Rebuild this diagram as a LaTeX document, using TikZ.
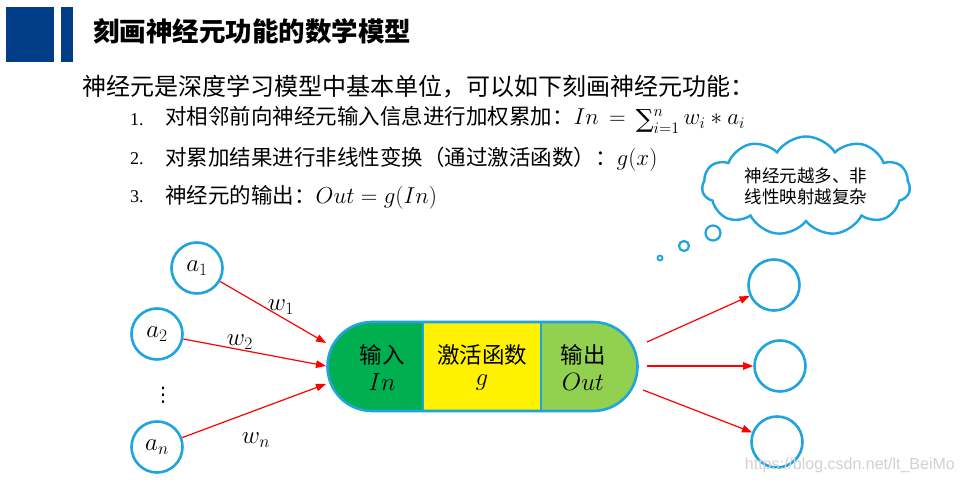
\RequirePackage{fix-cm}
\documentclass[tikz,border=0pt]{standalone}
\usepackage{fontspec}
\usetikzlibrary{arrows.meta,shapes.misc,shapes.symbols}
\newfontfamily\cjk{Noto Sans CJK SC}
\newfontfamily\numfont{Liberation Serif}
\newfontfamily\wmfont{Liberation Sans}
\newfontfamily\dvs{DejaVu Serif}
\newfontfamily\dvsans{DejaVu Sans}
\newcommand\bigsum{\mathop{\raisebox{-3pt}{\dvs\fontsize{25}{26}\selectfont ∑}}\nolimits}
\newcommand\mth[1]{{\fontsize{23}{26}\selectfont$#1$}}
\definecolor{hdrblue}{RGB}{0,61,134}
\definecolor{cblue}{RGB}{30,164,222}
\definecolor{dgreen}{RGB}{0,176,80}
\definecolor{lgreen}{RGB}{146,208,80}
\begin{document}
\begin{tikzpicture}[x=1pt,y=-1pt,
  nb/.style={circle, draw=cblue, line width=2.6pt, minimum size=51pt, inner sep=0pt, font=\fontsize{25}{28}\selectfont},
  arr/.style={red, line width=1.2pt, -{Triangle[length=10pt,width=7.5pt]}},
  bubble/.style={circle, draw=cblue, line width=2.2pt, inner sep=0pt},
  body/.style={anchor=west, inner sep=0pt, font=\fontsize{21.5}{25}\selectfont\cjk},
  num/.style={anchor=west, inner sep=0pt, font=\fontsize{18}{22}\selectfont\numfont},
  lbl/.style={inner sep=0pt, font=\fontsize{22.5}{26}\selectfont\cjk},
  wlbl/.style={inner sep=0pt, font=\fontsize{25}{28}\selectfont}]
\useasboundingbox (0,0) rectangle (964,486);
\fill[white] (0,0) rectangle (964,486);
% header
\fill[hdrblue] (6,7) rectangle (54,62);
\fill[hdrblue] (61,7) rectangle (73,62);
\node[anchor=west, inner sep=0pt, font=\fontsize{26.5}{30}\selectfont\cjk\bfseries] (title) at (93,31) {刻画神经元功能的数学模型};
% text
\node[anchor=west, inner sep=0pt, font=\fontsize{24}{28}\selectfont\cjk] (intro) at (82,87) {神经元是深度学习模型中基本单位，可以如下刻画神经元功能：};
\node[num] (n1) at (130,120) {1.};
\node[body] (l1) at (165,120) {对相邻前向神经元输入信息进行加权累加：\mth{In\,=\,\bigsum_{i=1}^{n} w_i * a_i}};
\node[num] (n2) at (130,159) {2.};
\node[body] (l2) at (165,159) {对累加结果进行非线性变换（通过激活函数）：\mth{g(x)}};
\node[num] (n3) at (130,197) {3.};
\node[body] (l3) at (165,197) {神经元的输出：\mth{Out = g(In)}};
% cloud
\node[cloud, cloud puffs=11, cloud puff arc=115, aspect=2.3, draw=cblue, line width=2.4pt, fill=white,
      minimum width=208pt, minimum height=96pt, inner sep=0pt, align=center,
      font=\fontsize{17.5}{21}\selectfont\cjk] (cloud) at (806,186) {神经元越多、非\\线性映射越复杂};
\node[bubble, minimum size=15pt] (b1) at (713,233) {};
\node[bubble, minimum size=10pt] (b2) at (684,246) {};
\node[bubble, minimum size=5pt, line width=1.8pt] (b3) at (660,258) {};
% inputs
\node[nb] (a1) at (197,268) {$a_1$};
\node[nb] (a2) at (157,334) {$a_2$};
\node[nb] (an) at (157,447) {$a_n$};
\node[inner sep=0pt, font=\fontsize{20}{24}\selectfont\dvsans] (dots) at (163,395) {⋮};
% capsule
\node[rounded rectangle, minimum width=310pt, minimum height=89pt, inner sep=0pt, draw=cblue, line width=2.6pt,
  path picture={
    \fill[dgreen] (path picture bounding box.north west) rectangle ([xshift=95pt]path picture bounding box.south west);
    \fill[yellow] ([xshift=95pt]path picture bounding box.north west) rectangle ([xshift=213pt]path picture bounding box.south west);
    \fill[lgreen] ([xshift=213pt]path picture bounding box.north west) rectangle (path picture bounding box.south east);
    \draw[cblue, line width=2pt] ([xshift=95pt]path picture bounding box.north west) -- ([xshift=95pt]path picture bounding box.south west);
    \draw[cblue, line width=2pt] ([xshift=213pt]path picture bounding box.north west) -- ([xshift=213pt]path picture bounding box.south west);
  }] (cap) at (482.5,366.5) {};
\node[lbl] (t1) at (382,355) {输入};
\node[wlbl] (m1) at (382,382) {$In$};
\node[lbl] (t2) at (482,355) {激活函数};
\node[wlbl] (m2) at (482,383) {$g$};
\node[lbl] (t3) at (583,355) {输出};
\node[wlbl] (m3) at (583,382) {$Out$};
% arrow ends
\coordinate (in1) at (326,343);
\coordinate (in2) at (326,366);
\coordinate (in3) at (326,384);
\draw[arr] (a1) -- (in1);
\draw[arr] (a2) -- (in2);
\draw[arr] (an) -- (in3);
\node[wlbl] (w1) at (281,307) {$w_1$};
\node[wlbl] (w2) at (240,342) {$w_2$};
\node[wlbl] (wn) at (256,440) {$w_n$};
% outputs
\node[nb] (o1) at (774,285) {};
\node[nb] (o2) at (780,366) {};
\node[nb] (o3) at (777,442) {};
\coordinate (s1) at (647,342);
\coordinate (s2) at (647,366);
\coordinate (s3) at (643,390);
\draw[arr] (s1) -- (o1);
\draw[arr] (s2) -- (o2);
\draw[arr] (s3) -- (o3);
% watermark
\node[anchor=east, inner sep=0pt, text=black!18, font=\fontsize{16}{19}\selectfont\wmfont] (wm) at (955,465) {https://blog.csdn.net/lt\_BeiMo};
\end{tikzpicture}
\end{document}
